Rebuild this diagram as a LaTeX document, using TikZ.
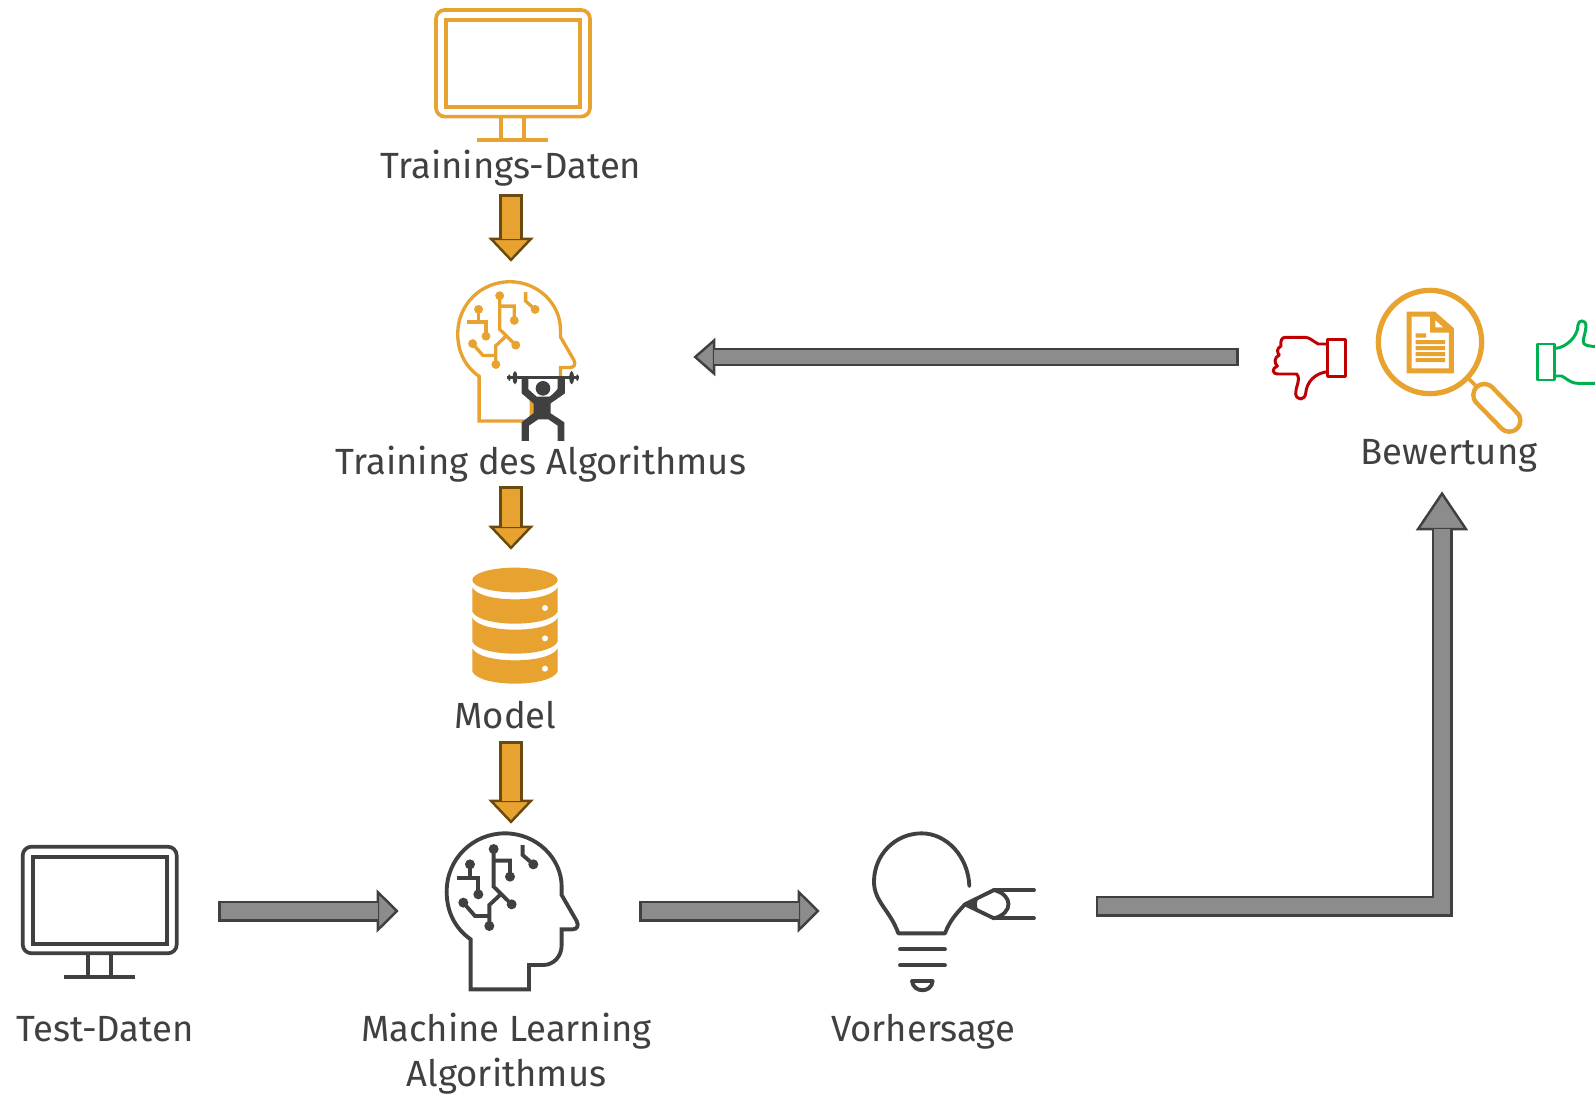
\documentclass[tikz,border=0pt]{standalone}
\usepackage{fontspec}
\setmainfont{Fira Sans}
\usetikzlibrary{arrows.meta}
\definecolor{iconorange}{HTML}{E8A22F}
\definecolor{icondark}{HTML}{404040}
\definecolor{arrowgrey}{HTML}{8C8C8C}
\definecolor{arrowbrown}{HTML}{6B4A10}
\definecolor{thumbred}{HTML}{C00000}
\definecolor{thumbgreen}{HTML}{00B050}
\tikzstyle{textlabel} = [inner sep=0pt, anchor=base, text height=0.5cm, text depth=0.18cm, text=icondark, font=\fontsize{20.75pt}{24pt}\selectfont]
\tikzstyle{iconbox} = [inner sep=0pt, minimum size=0pt]
\tikzset{
  greyblock/.style n args={5}{draw=icondark, line width=#3, line join=miter,
    shorten <=#1, shorten >=#2, -{Triangle[length=#4,width=#5,line width=1.4pt,color=icondark,fill=arrowgrey]},
    postaction={draw=arrowgrey, arrows=-, line width=#3-2.8pt, shorten <=#1+1.4pt, shorten >=#2+#4-1pt}},
  orangeblock/.style 2 args={draw=arrowbrown, line width=0.47cm,
    shorten <=#1, shorten >=#2, -{Triangle[length=0.48cm,width=0.9cm,line width=1.4pt,color=arrowbrown,fill=iconorange]},
    postaction={draw=iconorange, arrows=-, line width=0.47cm-2.8pt, shorten <=#1+1.4pt, shorten >=#2+0.48cm-1pt}},
  monitor/.pic={
    \draw[rounded corners=5pt] (0,0) rectangle (154,106.6);
    \draw (10,10) rectangle (144,97.3);
    \draw (65.3,106.6) -- (65.3,130) (88.3,106.6) -- (88.3,130) (41.3,130) -- (112.3,130);
  },
  brainhead/.pic={
    \draw[line join=miter] (152,508) -- (152,358) .. controls (105,325) and (80,275) .. (80,215)
      .. controls (80,115) and (160,40) .. (255,40) .. controls (350,40) and (425,115) .. (425,200)
      -- (425,225) -- (470,303) .. controls (478,318) and (470,328) .. (458,328) -- (425,328) -- (425,375)
      .. controls (425,410) and (400,435) .. (370,435) -- (327,435) -- (327,508) -- cycle;
    \draw (221,87) -- (221,200) -- (275,253) (221,122) -- (270,122) -- (270,170);
    \draw (308,75) -- (308,105) -- (340,133);
    \draw (150,133) -- (150,175) (112,175) -- (175,175) -- (175,223);
    \draw (130,248) -- (165,288) -- (208,288) -- (208,318) (208,288) -- (208,255) -- (240,225);
    \foreach \dotx/\doty in {221/87, 275/253, 270/170, 340/133, 150/133, 175/223, 130/248, 208/318}
      \fill (\dotx,\doty) circle (15);
  }
}

\begin{document}
\begin{tikzpicture}[x=0.02cm, y=-0.02cm]

        \useasboundingbox (0,0) rectangle (1595,1093);

        % icons
        \pic[draw=iconorange, fill=none, line width=2.1pt] at (436,10) {monitor};
        \pic[icondark, line width=2.1pt] at (22.7,846.7) {monitor};

        \pic[iconorange, line width=1.9pt, scale=0.2977] at (433.9,269.8) {brainhead};
        \pic[icondark, line width=2.2pt, scale=0.3333] at (420,820) {brainhead};

        % lifter
        \begin{scope}[shift={(420,260)}, scale=0.3333, icondark]
            \fill (262,348) rectangle (478,357);
            \fill (285,353) ellipse (7 and 20) (455,353) ellipse (7 and 20) (268,353) ellipse (4 and 10) (472,353) ellipse (4 and 10);
            \fill (369,385) circle (22);
            \fill (305,352) -- (325,352) -- (325,388) -- (350,410) -- (390,410) -- (413,388) -- (413,352) -- (435,352) -- (435,400) -- (392,430) -- (392,460) -- (433,487) -- (433,543) -- (413,543) -- (413,497) -- (385,478) -- (355,478) -- (327,497) -- (327,543) -- (305,543) -- (305,487) -- (340,460) -- (340,430) -- (305,400) -- cycle;
        \end{scope}

        % database
        \begin{scope}[shift={(450,550)}, scale=0.3333, iconorange]
            \fill (195,90) ellipse (128 and 37);
            \fill (67,112) .. controls (90,160) and (300,160) .. (323,112) -- (323,185) .. controls (300,233) and (90,233) .. (67,185) -- cycle;
            \fill (67,203) .. controls (90,251) and (300,251) .. (323,203) -- (323,275) .. controls (300,323) and (90,323) .. (67,275) -- cycle;
            \fill (67,295) .. controls (90,343) and (300,343) .. (323,295) -- (323,365) .. controls (300,413) and (90,413) .. (67,365) -- cycle;
            \fill[white] (285,174) circle (9) (285,265) circle (9) (285,356) circle (9);
        \end{scope}

        % bulb
        \begin{scope}[shift={(850,820)}, scale=0.3333, icondark, line width=2.2pt, line cap=round, line join=round]
            \draw (358,198) .. controls (355,110) and (290,40) .. (215,40) .. controls (135,40) and (72,105) .. (72,185)
                .. controls (72,245) and (120,270) .. (145,340) -- (285,340) .. controls (300,300) and (320,280) .. (345,253);
            \draw (345,253) -- (432,210) .. controls (490,225) and (490,280) .. (432,295) -- cycle;
            \fill (345,253) -- (388,231) .. controls (378,245) and (378,262) .. (388,274) -- cycle;
            \draw (432,210) -- (552,210) (432,295) -- (552,295);
            \draw (150,388) -- (285,388) (150,436) -- (285,436);
            \draw (186,483) -- (248,483) .. controls (245,520) and (190,520) .. (186,483) -- cycle;
        \end{scope}

        % thumbs and magnifier
        \begin{scope}[shift={(1250,270)}, scale=0.3333, line width=1.7pt]
            \draw[thumbred, line join=round] (232,208) rectangle (285,320);
            \draw[thumbred, line join=round] (232,222) -- (205,222) .. controls (190,215) and (180,202) .. (165,202) -- (105,202)
                .. controls (95,202) and (90,215) .. (93,228) .. controls (78,235) and (82,250) .. (88,255)
                .. controls (72,262) and (72,280) .. (82,288) .. controls (65,295) and (65,312) .. (85,312) -- (140,312)
                .. controls (155,330) and (135,350) .. (137,372) .. controls (140,392) and (165,392) .. (167,370)
                .. controls (170,335) and (195,310) .. (232,305);
            \draw[thumbgreen, line join=round] (862,222) rectangle (915,330);
            \draw[thumbgreen, line join=round] (915,235) .. controls (945,235) and (985,200) .. (984,165)
                .. controls (985,148) and (1008,148) .. (1008,168) .. controls (1008,185) and (1000,200) .. (1000,215)
                .. controls (1000,225) and (1010,228) .. (1040,230);
            \draw[thumbgreen, line join=round] (915,318) -- (935,318) .. controls (950,325) and (960,340) .. (985,340) -- (1040,340);
            \draw[iconorange, line width=3pt] (540,216) circle (155);
            \draw[iconorange, line width=2.2pt] (655,325) -- (680,350);
            \draw[iconorange, line width=15.1pt, line cap=round] (703,375) -- (778,452);
            \draw[white, line width=9.9pt, line cap=round] (703,375) -- (778,452);
            \fill[iconorange, even odd rule] (470,125) -- (555,125) -- (612,175) -- (612,310) -- (470,310) -- cycle
                (485,140) -- (540,140) -- (540,188) -- (597,188) -- (597,295) -- (485,295) -- cycle
                (556,150) -- (580,172) -- (556,172) -- cycle;
            \fill[iconorange] (497,190) rectangle (528,203) (497,210) rectangle (585,222) (497,228) rectangle (585,240)
                (497,246) rectangle (585,258) (497,264) rectangle (585,276);
        \end{scope}

        % names for the icons
        \node (monitortest) [iconbox, minimum width=3.14cm, minimum height=2.72cm] at (99.5,911) {};
        \node (headtrain) [iconbox, minimum width=2.4cm, minimum height=3.8cm] at (511,357) {};
        \node (headml) [iconbox, minimum width=2.68cm, minimum height=3.12cm] at (511,911) {};
        \node (database) [iconbox, minimum width=1.8cm, minimum height=2.4cm] at (511,628) {};
        \node (bulb) [iconbox, minimum width=3.2cm, minimum height=3.2cm] at (954,906) {};
        \node (thumbdown) [iconbox, minimum width=1.48cm, minimum height=1.4cm] at (1309,357) {};

        % labels
        \node (labeltraindata) [textlabel] at (511,178) {Trainings-Daten};
        \node (labeltraining) [textlabel] at (541,474) {Training des Algorithmus};
        \node (labelmodel) [textlabel] at (505.5,728) {Model};
        \node (labeltest) [textlabel] at (105,1041) {Test-Daten};
        \node (labelml) [textlabel] at (506.5,1041) {Machine Learning};
        \node (labelml2) [textlabel] at (506.5,1086) {Algorithmus};
        \node (labelpredict) [textlabel] at (923,1041) {Vorhersage};
        \node (labeleval) [textlabel] at (1449,464) {Bewertung};

        % arrows
        \draw[orangeblock={0.14cm}{0cm}] (labeltraindata.south) -- (headtrain.north);
        \draw[orangeblock={0.06cm}{0.36cm}] (labeltraining.south -| headtrain.south) -- (database.north);
        \draw[orangeblock={0.08cm}{0.18cm}] (labelmodel.south -| headml.north) -- (headml.north);

        \draw[greyblock={0.8cm}{0.9cm}{0.42cm}{0.44cm}{0.86cm}] (monitortest.east) -- (headml.west);
        \draw[greyblock={1.22cm}{1.08cm}{0.42cm}{0.44cm}{0.86cm}] (headml.east) -- (headml.east -| bulb.west);
        \draw[greyblock={1.23cm}{0.36cm}{0.42cm}{0.78cm}{1.04cm}] (bulb.east) -| ([xshift=-0.14cm]labeleval.south);
        \draw[greyblock={0.66cm}{2.44cm}{0.36cm}{0.44cm}{0.76cm}] (thumbdown.west) -- (headtrain.east);

    \end{tikzpicture}
\end{document}
